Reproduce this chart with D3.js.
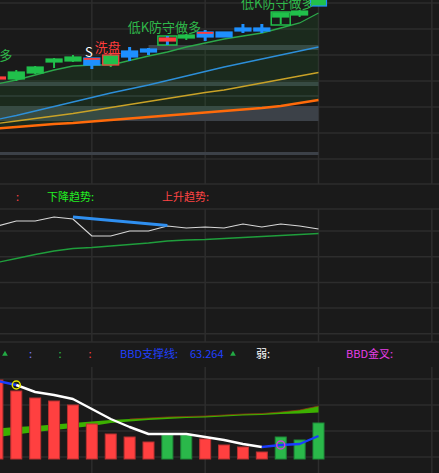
<!DOCTYPE html>
<html><head><meta charset="utf-8">
<script src="https://cdn.jsdelivr.net/npm/d3@7"></script>
<style>html,body{margin:0;padding:0;background:#1a1a1a;overflow:hidden}</style>
</head><body><svg id="c" width="439" height="473"></svg>
<script>
// ---------- DATA ----------
const idx = d3.range(18);
// top panel candles (price units)
const kOpen  = [62.4,62.4,63.0,64.1,64.2,63.8,63.8,64.6,65.1,66.2,66.5,66.6,66.6,67.2,67.2,68.6,68.8,69.7];
const kClose = [62.6,63.1,63.6,64.4,64.6,64.5,64.8,65.2,65.4,66.5,66.8,67.1,67.1,67.5,67.5,69.0,69.2,70.5];
const kHigh  = [62.7,63.3,63.7,64.5,64.8,64.5,65.0,65.6,65.5,66.7,66.9,67.3,67.1,67.9,67.9,69.0,69.3,70.5];
const kLow   = [62.3,62.2,62.9,63.5,64.1,63.4,63.6,64.2,64.8,65.8,66.3,66.2,66.6,67.0,67.0,67.9,68.6,69.7];
const kFill  = ['r','g','g','g','g','b','g','b','b','r','g','b','b','b','b','g','g','g'];
const kStroke= ['r','g','g','g','g','b','r','b','b','r','g','b','b','b','b','g','g','b'];
const kWick  = ['r','g','g','g','g','b','g','b','b','b','g','b','b','b','b','g','g','g'];
const kRedTop= [0,0,0,0,0,1,0,0,0,0,0,1,0,0,0,0,0,0];
const boxHi  = [null,null,null,null,null,null,null,null,null,66.7,null,null,null,null,null,69.1,null,null];
const boxLo  = [null,null,null,null,null,null,null,null,null,65.8,null,null,null,null,null,67.8,null,null];
const maGreen  = [61.9,62.3,62.8,63.3,63.7,63.8,63.8,64.25,64.7,65.1,65.6,66.0,66.4,66.7,67.0,67.5,68.0,69.0];
const maBlue   = [58.35,58.75,59.2,59.65,60.1,60.55,61.0,61.4,61.8,62.25,62.7,63.15,63.6,64.0,64.4,64.8,65.2,65.6];
const maYellow = [57.95,58.2,58.45,58.7,58.95,59.25,59.55,59.85,60.15,60.45,60.75,61.05,61.3,61.65,62.0,62.35,62.7,63.05];
const maOrange = [57.45,57.6,57.75,57.9,58.0,58.15,58.3,58.45,58.6,58.75,58.9,59.05,59.2,59.35,59.5,59.7,60.0,60.3];
const zoneHi   = [65.8,62.1,60.75,59.7,55.1];
const zoneLo   = [65.3,61.7,60.65,58.2,54.8];
const zoneFrom = [8,null,null,null,null];
const topLabels = [
  {i:-1, t:'低K防守做多', p:64.3, c:'g'},
  {i:5,  t:'S',          p:64.6, c:'w'},
  {i:6,  t:'洗盘',        p:65.1, c:'r'},
  {i:9,  t:'低K防守做多', p:67.1, c:'g'},
  {i:15, t:'低K防守做多', p:69.5, c:'g'}
];
// middle panel
const midWhite = [43.2,45.2,45.2,46.8,46.0,39.2,39.2,41.2,41.2,43.2,42.4,42.8,42.4,44.0,42.8,44.0,43.2,42.0];
const midGreen = [28.6,30.2,31.8,33.2,34.2,34.6,35.2,35.8,36.4,37.2,37.6,37.8,38.2,38.6,39.0,39.4,39.8,40.2];
const trendLine = [{i:4,v:46.8},{i:9,v:43.4}];
const midTexts = [{t:':',c:'#ff4444'},{t:'下降趋势:',c:'#22ee22'},{t:'上升趋势:',c:'#ff4444'}];
// bottom panel
const bars     = [79,68,61,58,54,35,25,22,17,24,24,20,14,12,7,22,19,36];
const barColor = ['r','r','r','r','r','r','r','r','r','g','g','r','r','r','r','g','g','g'];
const bbd      = [78,74,67,64,60,50,40,32,25,25,25,22,19,15,12,14,15,23];
const bbdSeg   = ['b','w','w','w','w','w','w','w','w','w','w','w','w','w','b','b','b'];
const bandA    = [30.5,32,33,34.5,36,37.5,39,40,41,42,42.5,43,44,45,45.5,47,49,53];
const bandB    = [22,24.5,27,29,31,33,36,37.5,39,40,41,41.5,42.5,43.5,44,45,45.5,46.5];
const markers  = [{i:1,c:'#e6e600'},{i:15,c:'#d040d0'}];
const botTexts = [':',':',':','BBD支撑线:','63.264','弱:','BBD金叉:'];

// ---------- DRAW ----------
const W=439,H=473;
const col={g:'#21c04b',b:'#1e90ff',r:'#ff3d3d',w:'#ffffff'};
const svg=d3.select('#c');
const x=d3.scaleLinear().domain([0,17]).range([-2.6,318.5]);
const yTop=d3.scaleLinear().domain([57,70]).range([133,3]);
const yMid=d3.scaleLinear().domain([0,50]).range([334,209]);
const yBot=d3.scaleLinear().domain([0,80]).range([459,379]);
const font='"Noto Sans CJK SC","Noto Sans",sans-serif';

svg.append('rect').attr('width',W).attr('height',H).attr('fill','#1a1a1a');
// grid
const grid=svg.append('g').attr('stroke','#2d2d2d').attr('stroke-width',1.5);
const hl=[...d3.range(3,185,26),184,209,...d3.range(0,5).map(k=>231+k*25.7),342,379,405,431,457];
hl.forEach(y=>grid.append('line').attr('x1',0).attr('x2',W).attr('y1',y).attr('y2',y));
[5,11,17,23].forEach(i=>{
  [[0,184],[209,342],[367,H]].forEach(s=>grid.append('line').attr('x1',x(i)).attr('x2',x(i)).attr('y1',s[0]).attr('y2',s[1]));
});

// top zones
zoneHi.forEach((h,k)=>{
  const x0=zoneFrom[k]==null?0:x(zoneFrom[k]);
  svg.append('rect').attr('x',x0).attr('width',x(17)-x0).attr('y',yTop(h)).attr('height',Math.max(1,yTop(zoneLo[k])-yTop(h))).attr('fill','#3c4148');
});
// green fill between green MA and orange MA
svg.append('path').datum(idx).attr('fill','rgba(34,127,45,0.17)')
  .attr('d',d3.area().x(i=>x(i)).y0(i=>yTop(maOrange[i])).y1(i=>yTop(maGreen[i])));
const line=(arr,ys)=>d3.line().x(i=>x(i)).y(i=>ys(arr[i]));
[[maOrange,'#ff6a0a',2.6],[maYellow,'#c9a227',1.3],[maBlue,'#2d8fd9',1.3],[maGreen,'#2ca84a',1.3]].forEach(([a,c,w])=>{
  svg.append('path').datum(idx).attr('fill','none').attr('stroke',c).attr('stroke-width',w).attr('d',line(a,yTop));
});
// candles
const cw=16;
idx.forEach(i=>{
  const cx=x(i);
  if(boxHi[i]!=null){
    svg.append('rect').attr('x',cx-cw/2-1.5).attr('width',cw+3).attr('y',yTop(boxHi[i])).attr('height',yTop(boxLo[i])-yTop(boxHi[i]))
      .attr('fill','none').attr('stroke',col.g).attr('stroke-width',1.5);
  }
  svg.append('line').attr('x1',cx).attr('x2',cx).attr('y1',yTop(kHigh[i])).attr('y2',yTop(kLow[i]))
    .attr('stroke',col[kWick[i]]).attr('stroke-width',kWick[i]==='b'?3:2);
  const t=yTop(Math.max(kOpen[i],kClose[i])), b=yTop(Math.min(kOpen[i],kClose[i]));
  svg.append('rect').attr('x',cx-cw/2).attr('width',cw).attr('y',t).attr('height',Math.max(2,b-t))
    .attr('fill',col[kFill[i]]).attr('stroke',col[kStroke[i]]).attr('stroke-width',1.2);
  if(kRedTop[i]) svg.append('rect').attr('x',cx-cw/2).attr('width',cw).attr('y',t).attr('height',1.8).attr('fill',col.r);
});
topLabels.forEach(l=>{
  svg.append('text').attr('x',x(l.i)-3).attr('y',yTop(l.p)).attr('text-anchor','middle')
    .attr('font-family',font).attr('font-size',13).attr('fill',l.c==='g'?'#2fb84a':col[l.c]).text(l.t);
});

// middle panel texts
[16,47,162].forEach((tx,k)=>svg.append('text').attr('x',tx).attr('y',201).attr('font-family',font).attr('font-size',11)
  .attr('fill',midTexts[k].c).text(midTexts[k].t));
svg.append('path').datum(idx).attr('fill','none').attr('stroke','#1f9e3c').attr('stroke-width',1.3).attr('d',line(midGreen,yMid));
svg.append('path').datum(idx).attr('fill','none').attr('stroke','#d8d8d8').attr('stroke-width',1.2).attr('d',line(midWhite,yMid));
svg.append('path').datum(trendLine).attr('fill','none').attr('stroke','#2f8ff0').attr('stroke-width',3)
  .attr('d',d3.line().x(d=>x(d.i)).y(d=>yMid(d.v)));

// bottom panel
svg.append('path').datum(idx).attr('fill','#3cb000')
  .attr('d',d3.area().x(i=>x(i)).y0(i=>yBot(bandB[i])).y1(i=>yBot(bandA[i])));
svg.append('path').datum(idx.slice(7)).attr('fill','none').attr('stroke','rgba(150,45,20,0.7)').attr('stroke-width',1)
  .attr('d',d3.line().x(i=>x(i)).y(i=>yBot(bandA[i])));
idx.forEach(i=>{
  const c=barColor[i]==='r'?['#ff4040','#b83030']:['#2ab84a','#1e8a38'];
  svg.append('rect').attr('x',x(i)-5.5).attr('width',11).attr('y',yBot(bars[i])).attr('height',yBot(0)-yBot(bars[i]))
    .attr('fill',c[0]).attr('stroke',c[1]).attr('stroke-width',1);
});
// bbd line runs
let runs=[],cur=null;
bbdSeg.forEach((s,i)=>{ if(!cur||cur.c!==s){cur={c:s,pts:[i]};runs.push(cur);} cur.pts.push(i+1); });
runs.forEach(r=>svg.append('path').datum(r.pts).attr('fill','none').attr('stroke',r.c==='b'?'#1a3cff':'#ffffff')
  .attr('stroke-width',2.4).attr('stroke-linejoin','round').attr('d',line(bbd,yBot)));
markers.forEach(m=>svg.append('circle').attr('cx',x(m.i)).attr('cy',yBot(bbd[m.i])).attr('r',4)
  .attr('fill','none').attr('stroke',m.c).attr('stroke-width',1.5));
// bottom text row
const tri=d3.symbol().type(d3.symbolTriangle).size(14);
[5,233].forEach(tx=>svg.append('path').attr('d',tri()).attr('transform',`translate(${tx},354)`).attr('fill','#22aa44'));
const bt=[[29,'#7b7bff'],[58.5,'#2ec04a'],[88.5,'#ff4040'],[120,'#2040ff'],[190,'#2040ff'],[256,'#ffffff'],[346,'#e83ee8']];
botTexts.forEach((t,k)=>svg.append('text').attr('x',bt[k][0]).attr('y',358).attr('font-family',font).attr('font-size',11)
  .attr('fill',bt[k][1]).text(t));
</script></body></html>
